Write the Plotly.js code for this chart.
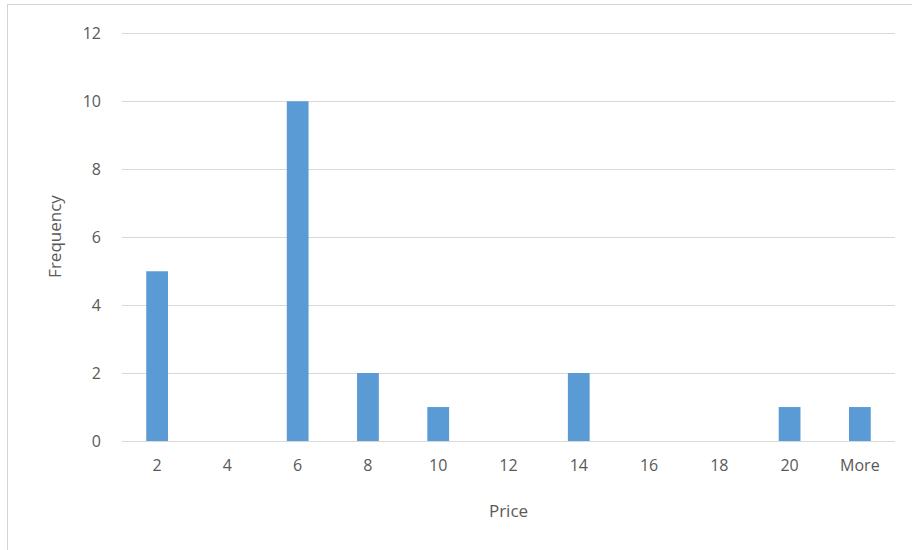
<!DOCTYPE html>
<html>
<head>
<meta charset="utf-8">
<script src="https://cdn.plot.ly/plotly-3.0.1.min.js"></script>
<style>
html,body{margin:0;padding:0;background:#fff;overflow:hidden;}
#chart{width:912px;height:550px;position:absolute;left:0;top:0;}
#frame{position:absolute;left:7px;top:4px;width:920px;height:560px;border:1px solid #d4d4d4;pointer-events:none;}
</style>
</head>
<body>
<div id="chart"></div>
<div id="frame"></div>
<script>
const categories = ["2","4","6","8","10","12","14","16","18","20","More"];
const frequency = [5,0,10,2,1,0,2,0,0,1,1];
const yTicks = [0,2,4,6,8,10,12];

const font = {family: "Open Sans, Liberation Sans, sans-serif", size: 16, color: "#595959"};

Plotly.newPlot("chart", [{
  type: "bar",
  x: categories,
  y: frequency,
  marker: {color: "#5B9BD5"},
  hoverinfo: "x+y"
}], {
  width: 912, height: 550,
  margin: {l: 122, r: 17, t: 32, b: 109},
  paper_bgcolor: "#fff", plot_bgcolor: "#fff",
  bargap: 0.69,
  showlegend: false,
  font: font,
  xaxis: {
    type: "category",
    showgrid: false,
    showline: true, linecolor: "#D9D9D9", linewidth: 1,
    ticks: "", ticklabelstandoff: 10,
    tickfont: font,
    title: {text: "Price", font: {family: font.family, size: 17, color: "#595959"}, standoff: 29}
  },
  yaxis: {
    range: [0, 12.04],
    tickvals: yTicks,
    showgrid: true, gridcolor: "#D9D9D9", gridwidth: 1,
    zeroline: false, showline: false,
    ticks: "", ticklabelstandoff: 20,
    tickfont: font,
    title: {text: "Frequency", font: {family: font.family, size: 17, color: "#595959"}, standoff: 16}
  }
}, {displayModeBar: false, staticPlot: true});
</script>
</body>
</html>
